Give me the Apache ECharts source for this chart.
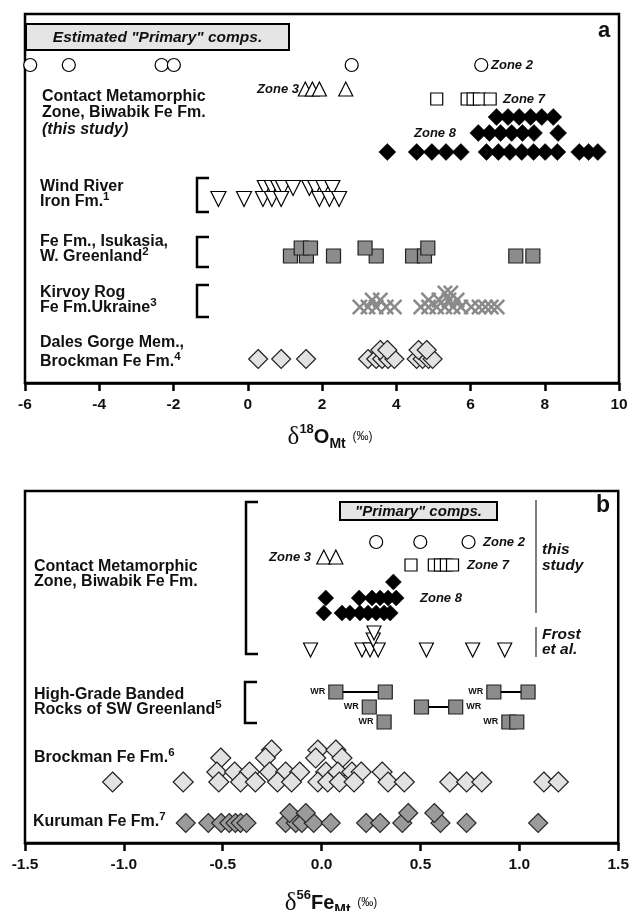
<!DOCTYPE html>
<html>
<head>
<meta charset="utf-8">
<script src="https://cdn.jsdelivr.net/npm/echarts@6/dist/echarts.min.js"></script>
<style>
  html, body { margin: 0; padding: 0; background: #fff; }
  #chart { width: 632px; height: 911px; }
</style>
</head>
<body>
<div id="chart"></div>
<script>
// ---- Panel a: δ18O of magnetite (‰) ----
const zone2O = [-5.86, -4.82, -2.32, -1.99, 2.80, 6.29];
const zone3O = [1.55, 1.74, 1.93, 2.64];
const zone7O = [5.09, 5.91, 6.07, 6.24, 6.53];
const zone8O_row1 = [6.70, 7.01, 7.31, 7.62, 7.92, 8.23];
const zone8O_row2 = [6.21, 6.51, 6.81, 7.11, 7.40, 7.71, 8.36];
const zone8O_row3 = [3.76, 4.55, 4.96, 5.34, 5.74, 6.43, 6.75, 7.06, 7.38, 7.70, 8.01, 8.34, 8.93, 9.18, 9.43];
const windRiverUpper = [0.46, 0.65, 0.82, 0.95, 1.22, 1.66, 1.82, 2.04, 2.28];
const windRiverLower = [-0.79, -0.10, 0.41, 0.65, 0.90, 1.93, 2.20, 2.46];
const isukasiaUpper = [1.44, 1.69, 3.16, 4.85];
const isukasiaLower = [1.15, 1.58, 2.31, 3.46, 4.44, 4.76, 7.22, 7.68];
const krivoyTop = [5.31, 5.47];
const krivoyMid = [3.35, 3.57, 4.87, 5.15, 5.42, 5.64];
const krivoyLow = [3.02, 3.24, 3.46, 3.73, 3.95, 4.66, 4.87, 5.09, 5.31, 5.53, 5.74, 6.02, 6.23, 6.40, 6.56, 6.72];
const dalesLower = [0.28, 0.90, 1.57, 3.24, 3.46, 3.62, 3.78, 3.95, 4.55, 4.71, 4.87, 4.98];
const dalesUpper = [3.57, 3.76, 4.60, 4.82];

// ---- Panel b: δ56Fe of magnetite (‰) ----
const zone2Fe = [0.276, 0.499, 0.743];
const zone3Fe = [0.011, 0.072];
const zone7Fe = [0.452, 0.570, 0.601, 0.631, 0.662];
const zone8Fe_row1 = [0.363];
const zone8Fe_row2 = [0.021, 0.190, 0.255, 0.296, 0.336, 0.377];
const zone8Fe_row3 = [0.011, 0.103, 0.143, 0.194, 0.235, 0.276, 0.316, 0.347];
const frostLower = [-0.056, 0.204, 0.245, 0.286, 0.530, 0.764, 0.926];
const frostUpperA = [0.265];
const frostUpperB = [0.261];
// SW Greenland: magnetite / whole-rock pairs per row ("WR" marks the whole rock)
const greenlandRow1 = [[0.072, 0.322], [0.871, 1.044]];
const greenlandRow2 = [[0.241], [0.505, 0.678]];
const greenlandRow3 = [[0.316], [0.947, 0.987]];
const wrSide = [['left', 'left'], ['left', 'right'], ['left', 'left']];
const brockmanA = [-0.253, -0.019, 0.072];
const brockmanB = [-0.51, -0.284, -0.03, 0.103];
const brockmanC = [-0.53, -0.44, -0.365, -0.263, -0.182, -0.111, 0.021, 0.082, 0.153, 0.20, 0.306];
const brockmanD = [-1.057, -0.70, -0.52, -0.41, -0.335, -0.223, -0.152, -0.019, 0.031, 0.09, 0.164, 0.336, 0.418, 0.648, 0.733, 0.81, 1.124, 1.197];
const kurumanUpper = [-0.162, -0.08, 0.438, 0.57];
const kurumanLower = [-0.687, -0.573, -0.508, -0.467, -0.436, -0.41, -0.38, -0.182, -0.131, -0.10, -0.04, 0.046, 0.225, 0.296, 0.408, 0.601, 0.733, 1.095];

// vertical lanes (y-axis units, measured down from the top of each frame)
const laneA = { z2: 51, z3: 75, z7: 85, z8a: 103, z8b: 119, z8c: 138, wrUp: 174, wrLo: 185,
  isUp: 234, isLo: 242, krTop: 279, krMid: 286, krLo: 293, dgUp: 336, dgLo: 345 };
const laneB = { z2: 51, z3: 66, z7: 74, z8a: 91, z8b: 107, z8c: 122, frA: 142, frB: 149, frLo: 159,
  wr1: 201, wr2: 216, wr3: 231, brA: 259, brB: 267, brC: 281, brD: 291, kuUp: 322, kuLo: 332 };

const FONT = '"Liberation Sans", Arial, Helvetica, sans-serif';
const SERIF = '"Liberation Serif", "DejaVu Serif", serif';

const openStyle = { color: '#fff', borderColor: '#000', borderWidth: 1.2, opacity: 1 };
const blackStyle = { color: '#000', borderColor: '#000', borderWidth: 0.5, opacity: 1 };
const darkGrey = { color: '#8c8c8c', borderColor: '#222', borderWidth: 1.2, opacity: 1 };
const lightGrey = { color: '#e2e2e2', borderColor: '#222', borderWidth: 1.2, opacity: 1 };
const kurumanStyle = { color: '#9b9b9b', borderColor: '#2a2a2a', borderWidth: 1.2, opacity: 1 };
const crossStyle = { color: '#8a8a8a', opacity: 1 };
const CROSS = 'path://M0,1.6 L1.6,0 L7,5.4 L12.4,0 L14,1.6 L8.6,7 L14,12.4 L12.4,14 L7,8.6 L1.6,14 L0,12.4 L5.4,7 Z';

function strip(panel, values, lane, symbol, size, style, extra) {
  return Object.assign({
    type: 'scatter', xAxisIndex: panel, yAxisIndex: panel,
    data: values.map(v => [v, lane]),
    symbol: symbol, symbolSize: size, itemStyle: style,
    silent: true, animation: false, z: 3
  }, extra || {});
}

const series = [
  // panel a
  strip(0, zone2O, laneA.z2, 'circle', 13, openStyle),
  strip(0, zone3O, laneA.z3, 'triangle', 14, openStyle),
  strip(0, zone7O, laneA.z7, 'rect', 12, openStyle),
  strip(0, zone8O_row1, laneA.z8a, 'diamond', 17, blackStyle),
  strip(0, zone8O_row2, laneA.z8b, 'diamond', 17, blackStyle),
  strip(0, zone8O_row3, laneA.z8c, 'diamond', 17, blackStyle),
  strip(0, windRiverUpper, laneA.wrUp, 'triangle', 15, openStyle, { symbolRotate: 180 }),
  strip(0, windRiverLower, laneA.wrLo, 'triangle', 15, openStyle, { symbolRotate: 180 }),
  strip(0, isukasiaLower, laneA.isLo, 'rect', 14, darkGrey),
  strip(0, isukasiaUpper, laneA.isUp, 'rect', 14, darkGrey),
  strip(0, krivoyLow, laneA.krLo, CROSS, 16, crossStyle),
  strip(0, krivoyMid, laneA.krMid, CROSS, 16, crossStyle),
  strip(0, krivoyTop, laneA.krTop, CROSS, 16, crossStyle),
  strip(0, dalesLower, laneA.dgLo, 'diamond', 19, lightGrey),
  strip(0, dalesUpper, laneA.dgUp, 'diamond', 19, lightGrey),
  // panel b
  strip(1, zone2Fe, laneB.z2, 'circle', 13, openStyle),
  strip(1, zone3Fe, laneB.z3, 'triangle', 14, openStyle),
  strip(1, zone7Fe, laneB.z7, 'rect', 12, openStyle),
  strip(1, zone8Fe_row1, laneB.z8a, 'diamond', 16, blackStyle),
  strip(1, zone8Fe_row2, laneB.z8b, 'diamond', 16, blackStyle),
  strip(1, zone8Fe_row3, laneB.z8c, 'diamond', 16, blackStyle),
  strip(1, frostLower, laneB.frLo, 'triangle', 14, openStyle, { symbolRotate: 180 }),
  strip(1, frostUpperB, laneB.frB, 'triangle', 14, openStyle, { symbolRotate: 180 }),
  strip(1, frostUpperA, laneB.frA, 'triangle', 14, openStyle, { symbolRotate: 180 }),
  strip(1, brockmanA, laneB.brA, 'diamond', 20, lightGrey),
  strip(1, brockmanB, laneB.brB, 'diamond', 20, lightGrey),
  strip(1, brockmanC, laneB.brC, 'diamond', 20, lightGrey),
  strip(1, brockmanD, laneB.brD, 'diamond', 20, lightGrey),
  strip(1, kurumanLower, laneB.kuLo, 'diamond', 19, kurumanStyle),
  strip(1, kurumanUpper, laneB.kuUp, 'diamond', 19, kurumanStyle)
];

// SW Greenland rows: tie lines between pairs, then the squares with their WR tags
[[greenlandRow1, laneB.wr1], [greenlandRow2, laneB.wr2], [greenlandRow3, laneB.wr3]].forEach(([row, lane], r) => {
  row.forEach((grp, g) => {
    if (grp.length > 1) {
      series.push({
        type: 'line', xAxisIndex: 1, yAxisIndex: 1, data: grp.map(v => [v, lane]),
        symbol: 'none', lineStyle: { color: '#000', width: 2, opacity: 1 }, silent: true, animation: false, z: 2
      });
    }
    const side = wrSide[r][g];
    const tagged = side === 'left' ? 0 : grp.length - 1;
    series.push({
      type: 'scatter', xAxisIndex: 1, yAxisIndex: 1, symbol: 'rect', symbolSize: 14,
      itemStyle: darkGrey, silent: true, animation: false, z: 3,
      data: grp.map((v, i) => ({
        value: [v, lane],
        label: i === tagged ? { show: true, formatter: 'WR', position: side, distance: 3,
          color: '#111', fontFamily: FONT, fontWeight: 'bold', fontSize: 9 } : { show: false }
      }))
    });
  });
});

function txt(x, y, text, font, extra) {
  return {
    type: 'text', x: x, y: y, z: 50, silent: true,
    style: Object.assign({ text: text, font: font, fill: '#111', align: 'left', verticalAlign: 'middle',
      textAlign: 'left', textVerticalAlign: 'middle' }, extra || {})
  };
}
const LBL = `bold 16px ${FONT}`;
const supRich = { s: { fontFamily: FONT, fontWeight: 'bold', fontSize: 11.5, verticalAlign: 'top' } };
function supLabel(x, y, text) {
  return txt(x, y, text, LBL, { rich: supRich, lineHeight: 22 });
}
function bracket(x, y1, y2) {
  return { type: 'polyline', z: 40, silent: true,
    shape: { points: [[x + 12, y1], [x, y1], [x, y2], [x + 12, y2]] },
    style: { stroke: '#000', lineWidth: 2.5, fill: null } };
}
function vline(x, y1, y2) {
  return { type: 'line', z: 40, silent: true, shape: { x1: x, y1: y1, x2: x, y2: y2 },
    style: { stroke: '#555', lineWidth: 1.5 } };
}
function box(x, y, w, h, label, font) {
  return [
    { type: 'rect', z: 40, silent: true, shape: { x: x, y: y, width: w, height: h },
      style: { fill: '#e5e5e5', stroke: '#000', lineWidth: 2 } },
    txt(x + w / 2, y + h / 2 + 1, label, font, { align: 'center', textAlign: 'center' })
  ];
}
function axisTitle(cx, cy, iso, el) {
  return txt(cx, cy, `{d|δ}{p|${iso}}{o|${el}}{b|Mt}{u|  (‰)}`, `bold 20px ${FONT}`, {
    align: 'center', textAlign: 'center',
    rich: {
      d: { fontFamily: SERIF, fontSize: 25, lineHeight: 28 },
      p: { fontFamily: FONT, fontWeight: 'bold', fontSize: 13, verticalAlign: 'top' },
      o: { fontFamily: FONT, fontWeight: 'bold', fontSize: 20, lineHeight: 28 },
      b: { fontFamily: FONT, fontWeight: 'bold', fontSize: 14, verticalAlign: 'bottom' },
      u: { fontFamily: FONT, fontSize: 12 }
    }
  });
}
const ZONE = `italic bold 13px ${FONT}`;

const graphics = [
  // panel a annotations
  ...box(26, 24, 263, 26, 'Estimated "Primary" comps.', `italic bold 15.5px ${FONT}`),
  txt(604, 31, 'a', `bold 22px ${FONT}`, { align: 'center', textAlign: 'center' }),
  txt(42, 97, 'Contact Metamorphic', LBL),
  txt(42, 113, 'Zone, Biwabik Fe Fm.', LBL),
  txt(42, 130, '(this study)', `italic bold 16px ${FONT}`),
  txt(299, 89, 'Zone 3', ZONE, { align: 'right', textAlign: 'right' }),
  txt(491, 65, 'Zone 2', ZONE),
  txt(503, 99, 'Zone 7', ZONE),
  txt(414, 133, 'Zone 8', ZONE),
  txt(40, 187, 'Wind River', LBL),
  supLabel(40, 202, 'Iron Fm.{s|1}'),
  txt(40, 242, 'Fe Fm., Isukasia,', LBL),
  supLabel(40, 257, 'W. Greenland{s|2}'),
  txt(40, 293, 'Kirvoy Rog', LBL),
  supLabel(40, 308, 'Fe Fm.Ukraine{s|3}'),
  txt(40, 343, 'Dales Gorge Mem.,', LBL),
  supLabel(40, 362, 'Brockman Fe Fm.{s|4}'),
  bracket(197, 178, 212),
  bracket(197, 237, 267),
  bracket(197, 285, 317),
  axisTitle(330, 437, '18', 'O'),
  // panel b annotations
  ...box(340, 502, 157, 18, '"Primary" comps.', `italic bold 15px ${FONT}`),
  txt(603, 506, 'b', `bold 23px ${FONT}`, { align: 'center', textAlign: 'center' }),
  txt(34, 567, 'Contact Metamorphic', LBL),
  txt(34, 582, 'Zone, Biwabik Fe Fm.', LBL),
  txt(311, 557, 'Zone 3', ZONE, { align: 'right', textAlign: 'right' }),
  txt(483, 542, 'Zone 2', ZONE),
  txt(467, 565, 'Zone 7', ZONE),
  txt(420, 598, 'Zone 8', ZONE),
  vline(536, 500, 613),
  vline(536, 627, 657),
  txt(542, 550, 'this', `italic bold 15.5px ${FONT}`),
  txt(542, 566, 'study', `italic bold 15.5px ${FONT}`),
  txt(542, 635, 'Frost', `italic bold 15.5px ${FONT}`),
  txt(542, 650, 'et al.', `italic bold 15.5px ${FONT}`),
  bracket(246, 502, 654),
  txt(34, 695, 'High-Grade Banded', LBL),
  supLabel(34, 710, 'Rocks of SW Greenland{s|5}'),
  bracket(245, 682, 723),
  supLabel(34, 758, 'Brockman Fe Fm.{s|6}'),
  supLabel(33, 822, 'Kuruman Fe Fm.{s|7}'),
  axisTitle(331, 903, '56', 'Fe')
];

function xAxisCfg(grid, min, max, interval, fmt) {
  return {
    type: 'value', gridIndex: grid, min: min, max: max, interval: interval, position: 'bottom',
    axisLine: { show: true, onZero: false, lineStyle: { color: '#000', width: 2.5 } },
    axisTick: { show: true, inside: false, length: 8, lineStyle: { color: '#000', width: 2.5 } },
    splitLine: { show: false },
    axisLabel: { show: true, margin: 14, color: '#111', fontFamily: FONT, fontWeight: 'bold',
      fontSize: 15.5, formatter: fmt, showMinLabel: true, showMaxLabel: true, hideOverlap: false }
  };
}
function yAxisCfg(grid, span) {
  return { type: 'value', gridIndex: grid, min: 0, max: span, inverse: true, show: false,
    axisLine: { show: false }, splitLine: { show: false } };
}

const chart = echarts.init(document.getElementById('chart'), null, { renderer: 'canvas' });
chart.setOption({
  backgroundColor: '#fff',
  animation: false,
  grid: [
    { left: 25, top: 14, width: 594, height: 369, show: true, borderColor: '#000', borderWidth: 2.5, backgroundColor: 'transparent' },
    { left: 25, top: 491, width: 594, height: 352, show: true, borderColor: '#000', borderWidth: 2.5, backgroundColor: 'transparent' }
  ],
  xAxis: [
    xAxisCfg(0, -6, 10, 2, v => String(v)),
    xAxisCfg(1, -1.5, 1.5, 0.5, v => v.toFixed(1))
  ],
  yAxis: [yAxisCfg(0, 369), yAxisCfg(1, 352)],
  series: series,
  graphic: { elements: graphics }
});
</script>
</body>
</html>
